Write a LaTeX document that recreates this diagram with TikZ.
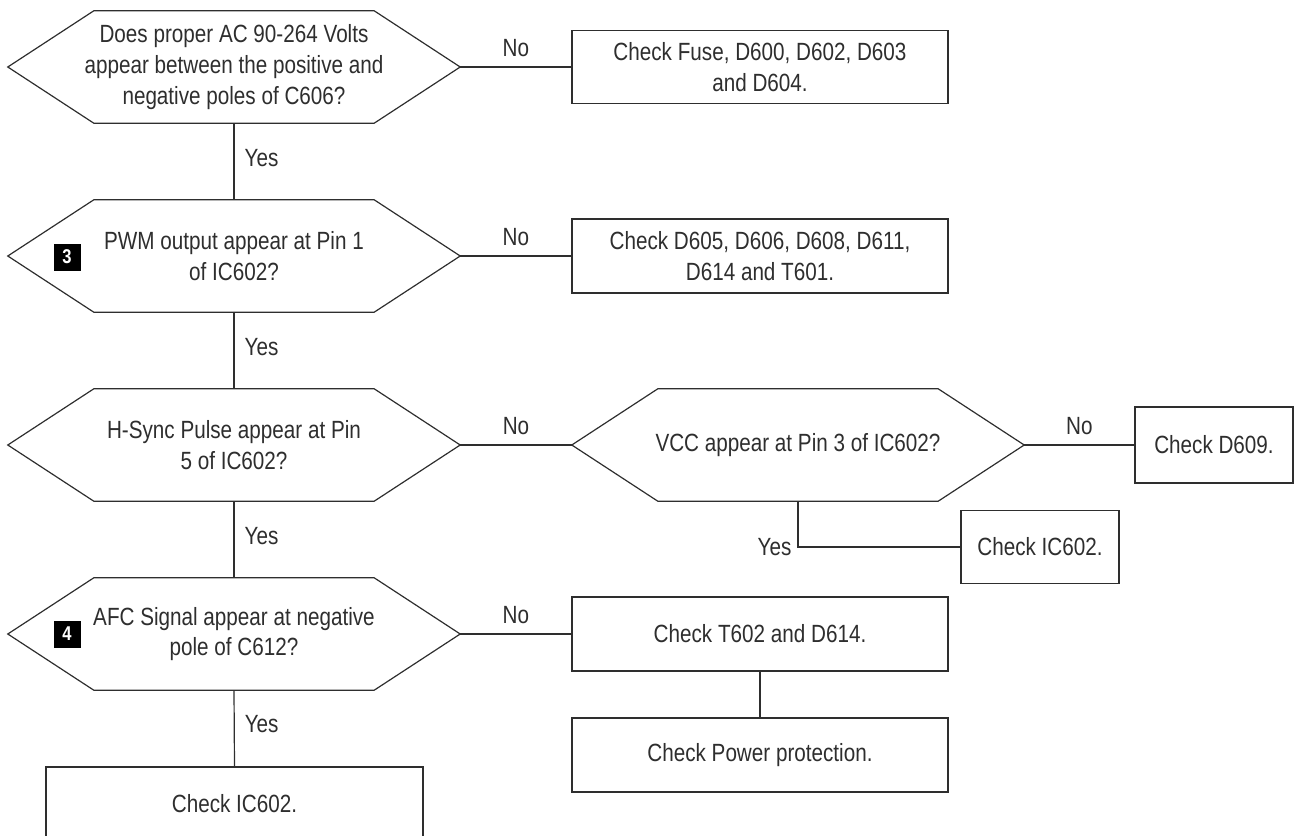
\documentclass[tikz,border=0pt]{standalone}
\usepackage{fontspec}
\setmainfont{Liberation Sans}[FakeStretch=0.83]
\usetikzlibrary{calc}
\definecolor{ink}{HTML}{2E2E2E}
\tikzset{
  ln/.style={draw=ink, line width=1.2bp},
  quest/.style={minimum width=452bp, minimum height=112bp, inner sep=0pt, align=center, text=ink},
  boxnode/.style={ln, inner sep=0pt, align=center, text=ink, minimum height=74bp},
  lbl/.style={inner sep=0pt, text=ink},
  badge/.style={fill=black, text=white, minimum size=27bp, inner sep=0pt,
                font=\bfseries\fontsize{20}{20}\selectfont},
}
\begin{document}
\begin{tikzpicture}[x=1bp, y=-1bp, font=\fontsize{25}{31}\selectfont]
\useasboundingbox (0,0) rectangle (1296,836);

% decision nodes (hexagon outlines drawn below)
\node[quest] (q1) at (234,67) {Does proper AC 90-264 Volts\\appear between the positive and\\negative poles of C606?};
\node[quest] (q2) at (234,256) {PWM output appear at Pin 1\\of IC602?};
\node[quest] (q3) at (234,445) {H-Sync Pulse appear at Pin\\5 of IC602?};
\node[quest] (q4) at (234,634) {AFC Signal appear at negative\\pole of C612?};
\node[quest] (q5) at (798,445) {VCC appear at Pin 3 of IC602?};

\foreach \n in {q1,q2,q3,q4,q5}
  \draw[ln, line join=miter] (\n.west) -- ($(\n.north west)+(86,0)$) -- ($(\n.north east)+(-86,0)$)
    -- (\n.east) -- ($(\n.south east)+(-86,0)$) -- ($(\n.south west)+(86,0)$) -- cycle;

% step markers
\node[badge] (m3) at (67,257) {3};
\node[badge] (m4) at (67,634) {4};

% action boxes
\node[boxnode, minimum width=376bp, minimum height=73bp] (b1) at (760,67) {Check Fuse, D600, D602, D603\\and D604.};
\node[boxnode, minimum width=376bp] (b2) at (760,256) {Check D605, D606, D608, D611,\\D614 and T601.};
\node[boxnode, minimum width=158bp, minimum height=76bp] (b3) at (1214,445) {Check D609.};
\node[boxnode, minimum width=158bp, minimum height=73bp] (b4) at (1040,547) {Check IC602.};
\node[boxnode, minimum width=376bp] (b5) at (760,634) {Check T602 and D614.};
\node[boxnode, minimum width=376bp] (b6) at (760,755) {Check Power protection.};
\node[boxnode, minimum width=377bp] (b7) at (234.5,804) {Check IC602.};

% connectors
\draw[ln] (q1.east) -- node[lbl, above=10bp] {No} (b1.west);
\draw[ln] (q2.east) -- node[lbl, above=10bp] {No} (b2.west);
\draw[ln] (q3.east) -- node[lbl, above=10bp] {No} (q5.west);
\draw[ln] (q5.east) -- node[lbl, above=10bp] {No} (b3.west);
\draw[ln] (q4.east) -- node[lbl, above=10bp] {No} (b5.west);

\draw[ln] (q1.south) -- node[lbl, pos=0.45, right=10bp] {Yes} (q2.north);
\draw[ln] (q2.south) -- node[lbl, pos=0.45, right=10bp] {Yes} (q3.north);
\draw[ln] (q3.south) -- node[lbl, pos=0.45, right=10bp] {Yes} (q4.north);
\draw[ln] (q4.south) -- node[lbl, pos=0.45, right=10bp] {Yes} (b7.north);
\draw[ln] (q5.south) |- node[lbl, pos=0.5, left=6bp] {Yes} (b4.west);
\draw[ln] (b5.south) -- (b6.north);
\end{tikzpicture}
\end{document}
